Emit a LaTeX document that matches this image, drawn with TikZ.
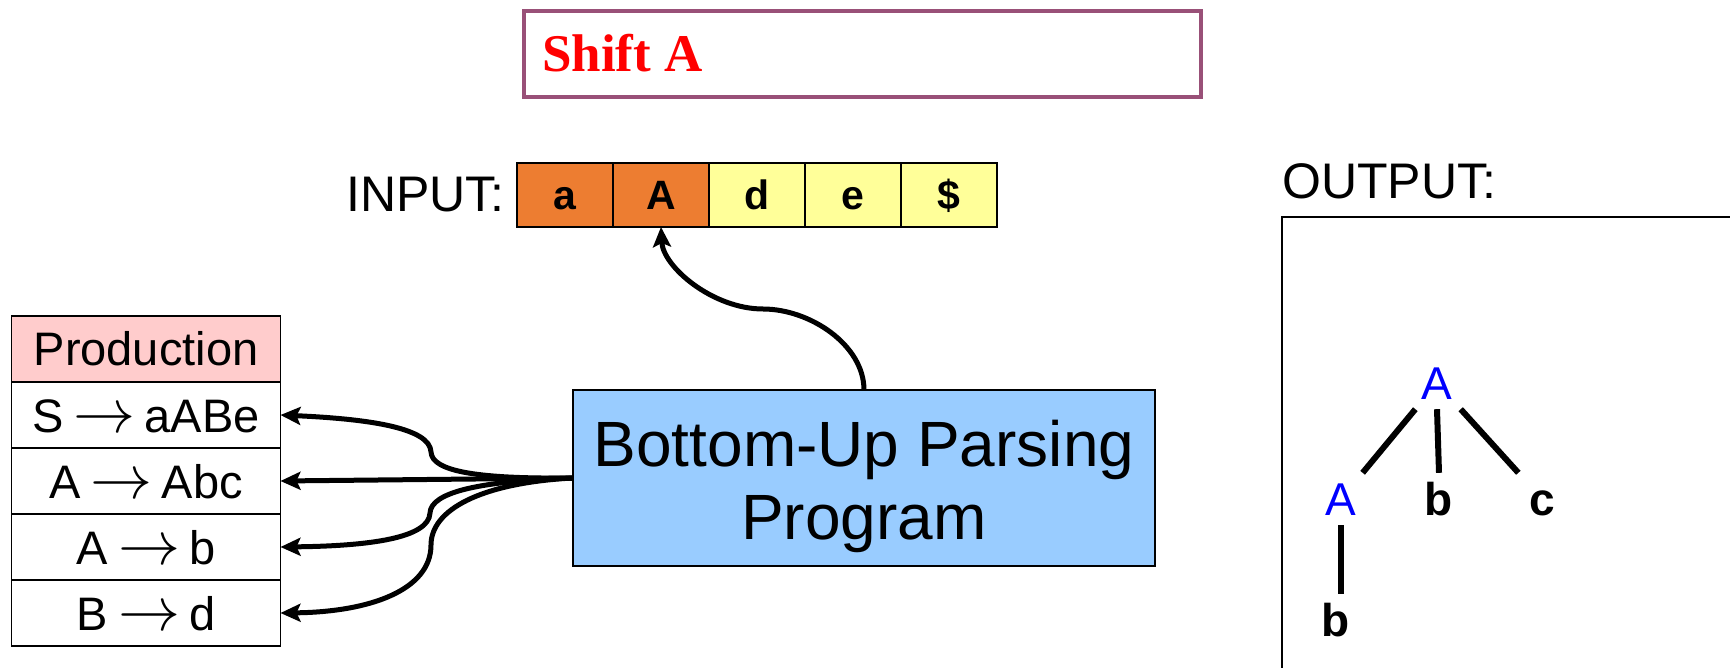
\documentclass[tikz,border=0pt]{standalone}
\usepackage{fontspec}
\setmainfont{Liberation Sans}
\newfontfamily\timesfont{Liberation Serif}
\usetikzlibrary{positioning,arrows.meta}

\definecolor{bannerpurple}{RGB}{153,80,120}
\definecolor{doneorange}{RGB}{237,125,49}
\definecolor{todoyellow}{RGB}{255,255,153}
\definecolor{prodpink}{RGB}{255,204,204}
\definecolor{progblue}{RGB}{153,204,255}
\definecolor{treeblue}{RGB}{0,0,255}

\newcommand{\fsz}[1]{\fontsize{#1}{#1}\selectfont}
\newcommand{\yields}{\hspace{10pt}\scalebox{6.2}{\fontsize{10}{10}\selectfont$\rightarrow$}\hspace{9pt}}

\begin{document}
\begin{tikzpicture}[x=1pt,y=-1pt,
    cell/.style={draw, line width=1.5pt, minimum width=96pt, minimum height=64pt,
        inner sep=0pt, outer sep=0pt, font=\fsz{41}\bfseries, text height=29pt, text depth=0pt},
    prodrow/.style={draw, line width=1.5pt, minimum width=269pt, minimum height=66pt,
        inner sep=0pt, outer sep=0pt, font=\fsz{47}, text height=34pt, text depth=0pt},
    conn/.style={line width=5pt, -{Stealth[length=20pt,width=18pt,inset=4pt]}},
    sym/.style={minimum width=52pt, minimum height=52pt, inner sep=0pt,
        font=\fsz{46}, text height=33pt, text depth=0pt},
    termsym/.style={sym, font=\fsz{46}\bfseries},
    treeline/.style={line width=6pt}]

    \useasboundingbox (0,0) rectangle (1730,668);

    % Action banner
    \node[draw=bannerpurple, line width=4pt, minimum width=677pt, minimum height=86pt] (banner) at (862.5,54) {};
    \node[anchor=base west, inner sep=0pt, text=red, font=\timesfont\bfseries\fsz{53}] (shift) at (542,72) {Shift A};

    % Input tape
    \node[cell, fill=doneorange] (c1) at (565,195) {a};
    \node[cell, fill=doneorange, right=0pt of c1] (c2) {A};
    \node[cell, fill=todoyellow, right=0pt of c2] (c3) {d};
    \node[cell, fill=todoyellow, right=0pt of c3] (c4) {e};
    \node[cell, fill=todoyellow, right=0pt of c4] (c5) {\$};
    \node[left=12pt of c1, inner sep=0pt, font=\fsz{50}] (inlbl) {INPUT:};

    % Production table
    \node[prodrow, fill=prodpink] (prodhd) at (146,349) {Production};
    \node[prodrow, below=0pt of prodhd] (r1) {S\yields aABe};
    \node[prodrow, below=0pt of r1] (r2) {A\yields Abc};
    \node[prodrow, below=0pt of r2] (r3) {A\yields b};
    \node[prodrow, below=0pt of r3] (r4) {B\yields d};

    % Parser
    \node[draw, line width=2pt, fill=progblue, minimum width=582pt, minimum height=176pt,
        outer sep=0pt] (prog) at (864,478) {};
    \node[align=center, font=\fontsize{64}{73}\selectfont] (progtxt) at (864,486)
        {Bottom-Up Parsing\\Program};

    \draw[conn] (prog.north) .. controls +(0,-45) and +(47,0) .. (763,309)
        .. controls +(-50,0) and +(2,40) .. (c2.south);

    \draw[conn] (prog.west) .. controls (480,479) and (432,472) .. (431,452)
        .. controls (430,428) and (370,419) .. (r1.east);
    \draw[conn] (prog.west) -- (r2.east);
    \draw[conn] (prog.west) .. controls (480,481) and (431,492) .. (430,513)
        .. controls (429,538) and (370,546) .. (r3.east);
    \draw[conn] (prog.west) .. controls (480,483) and (431,510) .. (431,545)
        .. controls (431,590) and (370,612) .. (r4.east);

    % Output
    \node[anchor=base west, inner sep=0pt, font=\fsz{50}] (outlbl) at (1282,199) {OUTPUT:};
    \draw[line width=2pt] (1282,668) |- (1730,217);

    \node[sym, text=treeblue] (tA) at (1437,383) {A};
    \node[sym, text=treeblue] (lA) at (1341,499) {A};
    \node[termsym] (mb) at (1439,499) {b};
    \node[termsym] (rc) at (1542,499) {c};
    \node[termsym] (lb) at (1336,620) {b};

    \draw[treeline] (tA) -- (lA);
    \draw[treeline] (tA.south) -- (mb.north);
    \draw[treeline] (tA) -- (rc);
    \draw[treeline] (lA.south) -- (lA.south |- lb.north);

\end{tikzpicture}
\end{document}
